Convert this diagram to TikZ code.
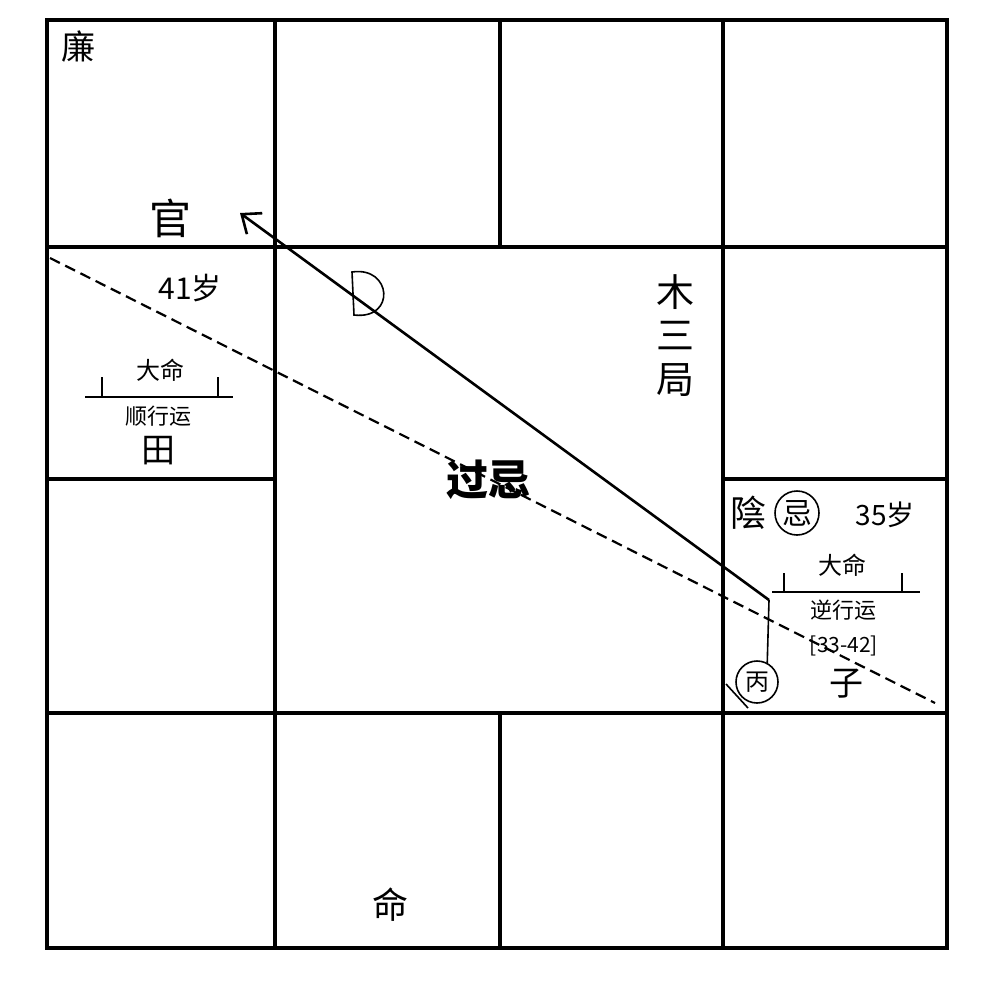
\documentclass[tikz,border=0pt]{standalone}
\usepackage{fontspec}
\setmainfont{Noto Sans CJK SC}
\newfontfamily\cjk{Noto Sans CJK SC}
\usetikzlibrary{arrows.meta}
\tikzset{
  grid/.style={line width=3.8pt, line cap=rect},
  lbl/.style={inner sep=0pt, font=\cjk},
  conn/.style={line width=2.6pt},
  dashconn/.style={line width=2.2pt, dash pattern=on 11pt off 6pt},
  thin/.style={line width=1.6pt},
}
\begin{document}
\begin{tikzpicture}[x=1pt,y=-1pt]
\useasboundingbox (0,0) rectangle (992,980);
\fill[white] (0,0) rectangle (992,980);
% grid
\draw[grid] (47,20) rectangle (947,948);
\draw[grid] (47,247) -- (947,247);
\draw[grid] (47,713) -- (947,713);
\draw[grid] (275,20) -- (275,948);
\draw[grid] (723,20) -- (723,948);
\draw[grid] (500,20) -- (500,247);
\draw[grid] (500,713) -- (500,948);
\draw[grid] (47,479) -- (275,479);
\draw[grid] (723,479) -- (947,479);

% texts
\node[lbl, font=\cjk\fontsize{34}{34}\selectfont] (lian) at (78,47) {廉};
\node[lbl, font=\cjk\fontsize{42}{42}\selectfont] (guan) at (170,218) {官};
\node[lbl, font=\cjk\fontsize{30}{30}\selectfont] (age41) at (190,288) {41岁};
\node[lbl, font=\cjk\fontsize{24}{24}\selectfont] (daming1) at (160,370) {大命};
\node[lbl, font=\cjk\fontsize{22}{22}\selectfont] (shun) at (158,416) {顺行运};
\node[lbl, font=\cjk\fontsize{34}{34}\selectfont] (tian) at (158,451) {田};
\node[lbl, font=\cjk\fontsize{38}{38}\selectfont] (mu1) at (675,292) {木};
\node[lbl, font=\cjk\fontsize{38}{38}\selectfont] (mu2) at (675,336) {三};
\node[lbl, font=\cjk\fontsize{38}{38}\selectfont] (mu3) at (675,380) {局};
\node[lbl, font=\cjk\bfseries\fontsize{42}{42}\selectfont] (guoji) at (488,480) {过忌};
\node[lbl, font=\cjk\fontsize{36}{36}\selectfont] (ming) at (390,905) {命};
\node[lbl, font=\cjk\fontsize{36}{36}\selectfont] (yin) at (748,513) {陰};
\node[lbl, draw, circle, line width=1.6pt, minimum size=44pt, font=\cjk\fontsize{30}{30}\selectfont] (ji) at (797,513) {忌};
\node[lbl, font=\cjk\fontsize{28}{28}\selectfont] (age35) at (885,515) {35岁};
\node[lbl, font=\cjk\fontsize{24}{24}\selectfont] (daming2) at (842,565) {大命};
\node[lbl, font=\cjk\fontsize{22}{22}\selectfont] (ni) at (843,610) {逆行运};
\node[lbl, font=\cjk\fontsize{21}{21}\selectfont] (range) at (844,646) {[33-42]};
\node[lbl, draw, circle, line width=1.6pt, minimum size=42pt, font=\cjk\fontsize{24}{24}\selectfont] (bing) at (757,682) {丙};
\node[lbl, font=\cjk\fontsize{34}{34}\selectfont] (zi) at (846,684) {子};

% bracket bars
\draw[thin] (85,397) -- (233,397);
\draw[thin] (102,377) -- (102,397);
\draw[thin] (218,377) -- (218,397);
\draw[thin] (772,592) -- (920,592);
\draw[thin] (784,573) -- (784,592);
\draw[thin] (902,573) -- (902,592);

% connectors
\coordinate (bend) at (769,600);
\coordinate (tip) at (240,213);
\coordinate (dstart) at (50,258);
\coordinate (dend) at (935,703);
\draw[thin] (bing.62) -- (bend);
\draw[conn, -{Straight Barb[length=16pt,width=26pt,line width=2.6pt]}] (bend) -- (tip);
\draw[dashconn] (dstart) -- (dend);
% D mark
\draw[thin] (352,272) .. controls (392,266) and (396,320) .. (354,315) -- cycle;
% small stroke at corner
\draw[thin] (726,684) -- (748,708);
\end{tikzpicture}
\end{document}
